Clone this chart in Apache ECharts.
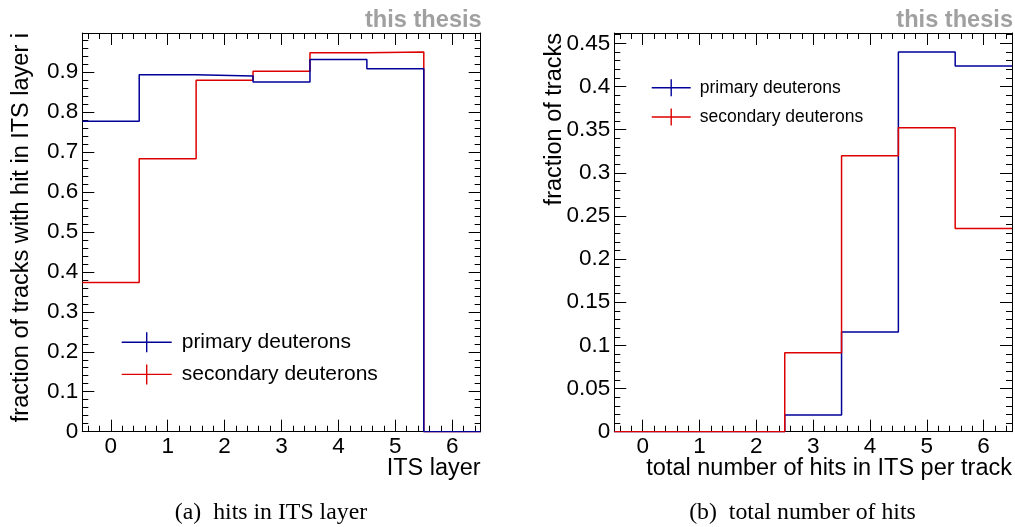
<!DOCTYPE html>
<html>
<head>
<meta charset="utf-8">
<title>ITS hits of primary and secondary deuterons</title>
<script src="https://cdn.jsdelivr.net/npm/echarts@6/dist/echarts.min.js"></script>
<style>
  html, body { margin: 0; padding: 0; background: #ffffff; }
  #chart { width: 1015px; height: 527px; }
</style>
</head>
<body>
<div id="chart"></div>
<script>
// ITS layer index / number of hits (bin centres 0..6)
const bins = [0, 1, 2, 3, 4, 5, 6];

// (a) fraction of tracks with a hit in ITS layer i
const layerPrimary   = [0.777, 0.893, 0.890, 0.875, 0.931, 0.908, 0.0];
const layerSecondary = [0.373, 0.683, 0.879, 0.902, 0.948, 0.950, 0.0];

// (b) total number of ITS hits per track
const hitsPrimary   = [0.0, 0.0, 0.0, 0.0193, 0.1155, 0.440, 0.4237];
const hitsSecondary = [0.0, 0.0, 0.0, 0.0915, 0.3198, 0.3522, 0.2356];

// tick labels
const xTickLabels  = [0, 1, 2, 3, 4, 5, 6];
const yTickLabelsA = [0, 0.1, 0.2, 0.3, 0.4, 0.5, 0.6, 0.7, 0.8, 0.9];
const yTickLabelsB = [0, 0.05, 0.1, 0.15, 0.2, 0.25, 0.3, 0.35, 0.4, 0.45];

const seriesNames = ['primary deuterons', 'secondary deuterons'];
const BLUE = '#000099';
const RED = '#dd0000';
const FONT = '"Liberation Sans", Arial, Helvetica, sans-serif';
const SERIF = '"Liberation Serif", "Times New Roman", serif';

const X_MIN = -0.5, X_MAX = 6.5;
// histogram ranges: 5 % head room above the tallest bin
const yMaxA = Math.max(...layerPrimary, ...layerSecondary) * 1.05;
const yMaxB = Math.max(...hitsPrimary, ...hitsSecondary) * 1.05;

// minor tick positions between the labelled ones
function minorTicks(lo, hi, step, majorStep) {
  const out = [];
  const n = Math.round((hi - lo) / step);
  for (let i = 0; i <= n; i++) {
    const v = +(lo + i * step).toFixed(6);
    if (v < lo - 1e-9 || v > hi + 1e-9) continue;
    const r = v / majorStep;
    if (Math.abs(r - Math.round(r)) < 1e-6) continue;
    out.push(v);
  }
  return out;
}
const xMinor  = minorTicks(-0.4, 6.4, 0.2, 1);
const yMinorA = minorTicks(0, yMaxA, 0.02, 0.1);
const yMinorB = minorTicks(0, yMaxB, 0.01, 0.05);

// bin contents -> step outline: left edge of every bin plus the final upper edge
function outline(values) {
  const pts = bins.map((b, i) => [b - 0.5, values[i]]);
  pts.push([bins[bins.length - 1] + 0.5, values[values.length - 1]]);
  return pts;
}

const frameLine = { show: true, onZero: false, lineStyle: { color: '#000', width: 1 } };
const noLine = { show: false, onZero: false };
const MAJOR = 12, MINOR = 6;
const TICK_FONT = 22.5;

function xAxes(gi) {
  const base = { type: 'value', gridIndex: gi, min: X_MIN, max: X_MAX, splitLine: { show: false } };
  return [
    Object.assign({}, base, {
      position: 'bottom', axisLine: frameLine,
      axisTick: { show: true, inside: true, length: MAJOR, customValues: xTickLabels, lineStyle: { color: '#000' } },
      axisLabel: { show: true, customValues: xTickLabels, margin: 4, color: '#000', fontSize: TICK_FONT, fontFamily: FONT }
    }),
    Object.assign({}, base, {
      position: 'bottom', axisLine: noLine,
      axisTick: { show: true, inside: true, length: MINOR, customValues: xMinor, lineStyle: { color: '#000' } },
      axisLabel: { show: false }
    }),
    Object.assign({}, base, {
      position: 'top', axisLine: frameLine,
      axisTick: { show: true, inside: true, length: MAJOR, customValues: xTickLabels, lineStyle: { color: '#000' } },
      axisLabel: { show: false }
    }),
    Object.assign({}, base, {
      position: 'top', axisLine: noLine,
      axisTick: { show: true, inside: true, length: MINOR, customValues: xMinor, lineStyle: { color: '#000' } },
      axisLabel: { show: false }
    })
  ];
}

function yAxes(gi, yMax, labels, minor) {
  const base = { type: 'value', gridIndex: gi, min: 0, max: yMax, splitLine: { show: false } };
  return [
    Object.assign({}, base, {
      position: 'left', axisLine: frameLine,
      axisTick: { show: true, inside: true, length: MAJOR, customValues: labels, lineStyle: { color: '#000' } },
      axisLabel: { show: true, customValues: labels, margin: 4, color: '#000', fontSize: TICK_FONT, fontFamily: FONT }
    }),
    Object.assign({}, base, {
      position: 'left', axisLine: noLine,
      axisTick: { show: true, inside: true, length: MINOR, customValues: minor, lineStyle: { color: '#000' } },
      axisLabel: { show: false }
    }),
    Object.assign({}, base, {
      position: 'right', axisLine: frameLine,
      axisTick: { show: true, inside: true, length: MAJOR, customValues: labels, lineStyle: { color: '#000' } },
      axisLabel: { show: false }
    }),
    Object.assign({}, base, {
      position: 'right', axisLine: noLine,
      axisTick: { show: true, inside: true, length: MINOR, customValues: minor, lineStyle: { color: '#000' } },
      axisLabel: { show: false }
    })
  ];
}

function histSeries(name, values, color, axisOffset) {
  return {
    name: name, type: 'line', step: 'end',
    xAxisIndex: axisOffset, yAxisIndex: axisOffset,
    data: outline(values),
    showSymbol: false, symbol: 'none', silent: true, animation: false,
    itemStyle: { color: color },
    lineStyle: { color: color, width: 1.5 }
  };
}

const chart = echarts.init(document.getElementById('chart'), null, { renderer: 'canvas' });

const TITLE_FONT = '23.5px ' + FONT;
const CAPTION_FONT = '23.8px ' + SERIF;
const STAMP_FONT = 'bold 23.6px ' + FONT;

const option = {
  backgroundColor: '#ffffff',
  animation: false,
  grid: [
    { left: 82.3, top: 33, width: 398.4, height: 398.7 },
    { left: 614.3, top: 33, width: 397.7, height: 398.7 }
  ],
  xAxis: [].concat(xAxes(0), xAxes(1)),
  yAxis: [].concat(yAxes(0, yMaxA, yTickLabelsA, yMinorA), yAxes(1, yMaxB, yTickLabelsB, yMinorB)),
  legend: [
    {
      data: seriesNames, orient: 'vertical', left: 121.7, top: 331.7, padding: 0,
      itemWidth: 50, itemHeight: 20, itemGap: 11.2, selectedMode: false,
      icon: 'path://M0,9.3H50V10.7H0Z M24.3,0H25.7V20H24.3Z',
      textStyle: { color: '#000', fontSize: 21, fontFamily: FONT, padding: [0, 0, 0, 5] }
    },
    {
      data: seriesNames, orient: 'vertical', left: 651.7, top: 78.8, padding: 0,
      itemWidth: 39, itemHeight: 17, itemGap: 11.2, selectedMode: false,
      icon: 'path://M0,7.8H39V9.2H0Z M18.8,0H20.2V17H18.8Z',
      textStyle: { color: '#000', fontSize: 17.5, fontFamily: FONT, padding: [0, 0, 0, 4] }
    }
  ],
  series: [
    histSeries(seriesNames[1], layerSecondary, RED, 0),
    histSeries(seriesNames[0], layerPrimary, BLUE, 0),
    histSeries(seriesNames[0], hitsPrimary, BLUE, 4),
    histSeries(seriesNames[1], hitsSecondary, RED, 4)
  ],
  graphic: [
    // axis titles
    { type: 'text', x: 21.5, y: 33, rotation: Math.PI / 2,
      style: { text: 'fraction of tracks with hit in ITS layer i', align: 'right', verticalAlign: 'middle',
               font: TITLE_FONT, fill: '#000' } },
    { type: 'text', x: 480.7, y: 469,
      style: { text: 'ITS layer', align: 'right', verticalAlign: 'middle', font: TITLE_FONT, fill: '#000' } },
    { type: 'text', x: 555, y: 33, rotation: Math.PI / 2,
      style: { text: 'fraction of tracks', align: 'right', verticalAlign: 'middle',
               font: TITLE_FONT, fill: '#000' } },
    { type: 'text', x: 1012, y: 469,
      style: { text: 'total number of hits in ITS per track', align: 'right', verticalAlign: 'middle',
               font: TITLE_FONT, fill: '#000' } },
    // stamps
    { type: 'text', x: 481.7, y: 20,
      style: { text: 'this thesis', align: 'right', verticalAlign: 'middle', font: STAMP_FONT, fill: '#a0a0a0' } },
    { type: 'text', x: 1013, y: 20,
      style: { text: 'this thesis', align: 'right', verticalAlign: 'middle', font: STAMP_FONT, fill: '#a0a0a0' } },
    // sub-captions
    { type: 'text', x: 271, y: 513,
      style: { text: '(a)  hits in ITS layer', align: 'center', verticalAlign: 'middle', font: CAPTION_FONT, fill: '#000' } },
    { type: 'text', x: 802.5, y: 513,
      style: { text: '(b)  total number of hits', align: 'center', verticalAlign: 'middle', font: CAPTION_FONT, fill: '#000' } }
  ]
};

chart.setOption(option);
</script>
</body>
</html>
